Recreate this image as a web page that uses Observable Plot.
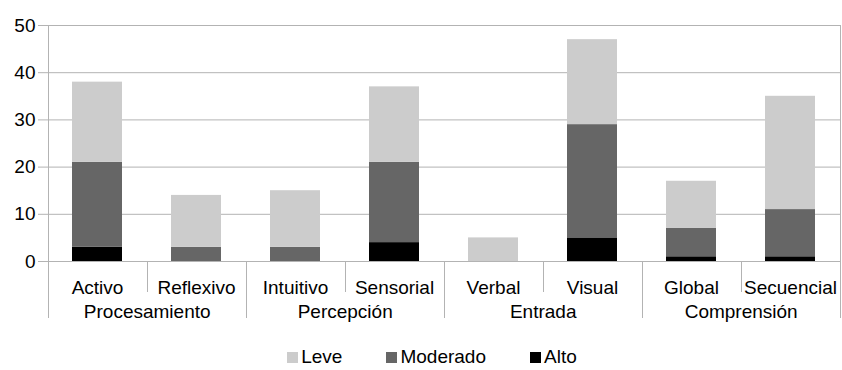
<!DOCTYPE html>
<html>
<head>
<meta charset="utf-8">
<script src="https://cdn.jsdelivr.net/npm/d3@7"></script>
<script src="https://cdn.jsdelivr.net/npm/@observablehq/plot@0.6"></script>
<style>
  html, body { margin: 0; padding: 0; background: #fff; }
  #chart { width: 842px; }
  .legend { display: flex; justify-content: center; align-items: center; height: 40px;
            padding-left: 22px; padding-top: 14px; box-sizing: border-box; width: 842px;
            font-family: "Liberation Sans", Arial, sans-serif; font-size: 19px; color: #000; }
  .legend span.item { display: inline-flex; align-items: center; margin: 0 22px; }
  .legend i { display: inline-block; width: 11px; height: 11px; margin-right: 3px; }
</style>
</head>
<body>
<div id="chart"></div>
<script>
const categories = ["Activo", "Reflexivo", "Intuitivo", "Sensorial", "Verbal", "Visual", "Global", "Secuencial"];
const groupNames = ["Procesamiento", "Percepción", "Entrada", "Comprensión"];
const groupOf = ["Procesamiento", "Procesamiento", "Percepción", "Percepción", "Entrada", "Entrada", "Comprensión", "Comprensión"];
const levels = ["Leve", "Moderado", "Alto"];
const colors = ["#cccccc", "#666666", "#000000"];
const alto = [3, 0, 0, 4, 0, 5, 1, 1];
const moderado = [18, 3, 3, 17, 0, 24, 6, 10];
const leve = [17, 11, 12, 16, 5, 18, 10, 24];
const yTicks = [0, 10, 20, 30, 40, 50];

const data = [];
categories.forEach((c, i) => {
  data.push({category: c, level: "Alto", value: alto[i]});
  data.push({category: c, level: "Moderado", value: moderado[i]});
  data.push({category: c, level: "Leve", value: leve[i]});
});
const groupLabels = groupNames.map(g => ({name: g, first: categories[groupOf.indexOf(g)]}));

const W = 842, ML = 46, MR = 1;
const step = (W - ML - MR) / categories.length;
const gridColor = "#b3b3b3";

function separators(index, scales, values, dims) {
  const x = scales.x;
  const bw = typeof x.bandwidth === "function" ? x.bandwidth() : x.bandwidth;
  const st = typeof x.step === "function" ? x.step() : x.step;
  const y0 = dims.height - dims.marginBottom;
  const top = dims.marginTop;
  const g = d3.create("svg:g").attr("stroke", gridColor).attr("stroke-width", 1);
  const bounds = categories.map((c, i) => ({pos: x(c) + bw / 2 - st / 2, i}));
  bounds.push({pos: x(categories[categories.length - 1]) + bw / 2 + st / 2, i: categories.length});
  for (const b of bounds) {
    const isGroup = b.i === 0 || b.i === categories.length || groupOf[b.i] !== groupOf[b.i - 1];
    const px = Math.round(b.pos) + 0.5;
    g.append("line").attr("x1", px).attr("x2", px)
      .attr("y1", (b.i === 0 || b.i === categories.length) ? top : y0)
      .attr("y2", y0 + (isGroup ? 57 : 31));
  }
  return g.node();
}

const chart = Plot.plot({
  width: W,
  height: 330,
  marginLeft: ML,
  marginRight: MR,
  marginTop: 25,
  marginBottom: 69,
  style: {fontFamily: "Liberation Sans, Arial, sans-serif", fontSize: "19px", color: "#000", background: "#fff"},
  x: {domain: categories, paddingInner: 0.5, paddingOuter: 0.25, axis: null},
  y: {domain: [0, 50], axis: null},
  color: {domain: levels, range: colors},
  marks: [
    Plot.gridY(yTicks, {stroke: gridColor, strokeOpacity: 1, strokeWidth: 1}),
    Plot.axisY(yTicks, {tickSize: 8, tickPadding: 3, stroke: gridColor, fill: "#000", fontSize: 19, anchor: "left", label: null}),
    Plot.barY(data, {x: "category", y: "value", fill: "level"}),
    Plot.ruleY([0], {stroke: gridColor, strokeWidth: 1}),
    separators,
    Plot.text(categories, {x: d => d, frameAnchor: "bottom", dy: 26, lineAnchor: "middle", fill: "#000", fontSize: 19}),
    Plot.text(groupLabels, {x: "first", text: "name", dx: step / 2, frameAnchor: "bottom", dy: 50, lineAnchor: "middle", fill: "#000", fontSize: 19})
  ]
});
document.getElementById("chart").appendChild(chart);

const legend = document.createElement("div");
legend.className = "legend";
levels.forEach((l, i) => {
  const item = document.createElement("span");
  item.className = "item";
  const sw = document.createElement("i");
  sw.style.background = colors[i];
  item.appendChild(sw);
  item.appendChild(document.createTextNode(l));
  legend.appendChild(item);
});
document.getElementById("chart").appendChild(legend);
</script>
</body>
</html>
